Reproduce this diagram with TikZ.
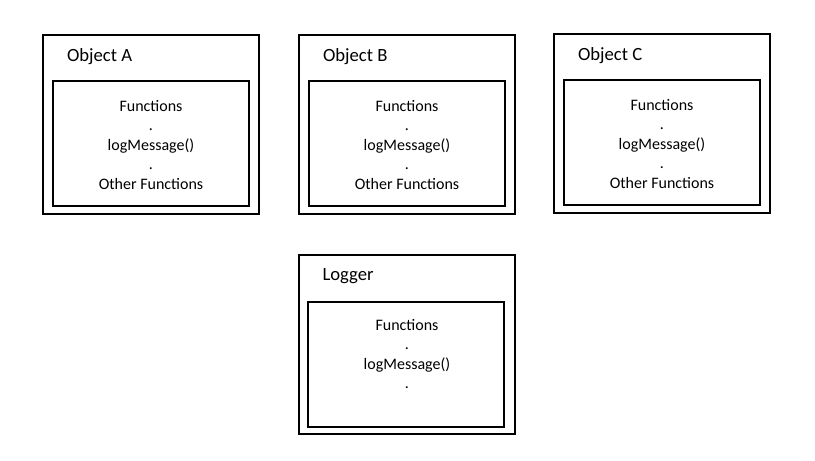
\documentclass[tikz,border=0pt]{standalone}
\usepackage{fontspec}
\setmainfont{Carlito}
\usetikzlibrary{positioning}

\begin{document}
\begin{tikzpicture}[x=0.75pt,y=-0.75pt,line width=1.5pt,
                obj box/.style={rectangle,draw,inner sep=0pt,minimum width=162pt,minimum height=134.25pt},
                fn box/.style={rectangle,draw,inner sep=0pt,minimum width=147pt,minimum height=93.75pt},
                title/.style={anchor=base west,inner sep=0pt,font=\fontsize{14}{17}\selectfont},
                fn text/.style={anchor=north,inner sep=0pt,align=center,font=\fontsize{12}{14.55}\selectfont}]
\useasboundingbox (0,0) rectangle (815,461);
%Objects
    \node[obj box] (objA) at (151,124.5) {};
    \node[fn box] (objAfn) at (151,143.5) {};
    \node[title] (objAtitle) at (66,61) {Object A};
    \node[fn text] (objAtext) at (151,99.5) {Functions\\.\\logMessage()\\.\\Other Functions};

    \node[obj box] (objB) at (407,124.5) {};
    \node[fn box] (objBfn) at (407,143.5) {};
    \node[title] (objBtitle) at (322,61) {Object B};
    \node[fn text] (objBtext) at (407,99.5) {Functions\\.\\logMessage()\\.\\Other Functions};

    \node[obj box] (objC) at (662,123.5) {};
    \node[fn box] (objCfn) at (662,142.5) {};
    \node[title] (objCtitle) at (577,60) {Object C};
    \node[fn text] (objCtext) at (662,98.5) {Functions\\.\\logMessage()\\.\\Other Functions};

%Logger
    \node[obj box] (log) at (407,344.5) {};
    \node[fn box] (logfn) at (406,364) {};
    \node[title] (logtitle) at (321.5,280) {Logger};
    \node[fn text] (logtext) at (407,318.5) {Functions\\.\\logMessage()\\.};
\end{tikzpicture}
\end{document}
